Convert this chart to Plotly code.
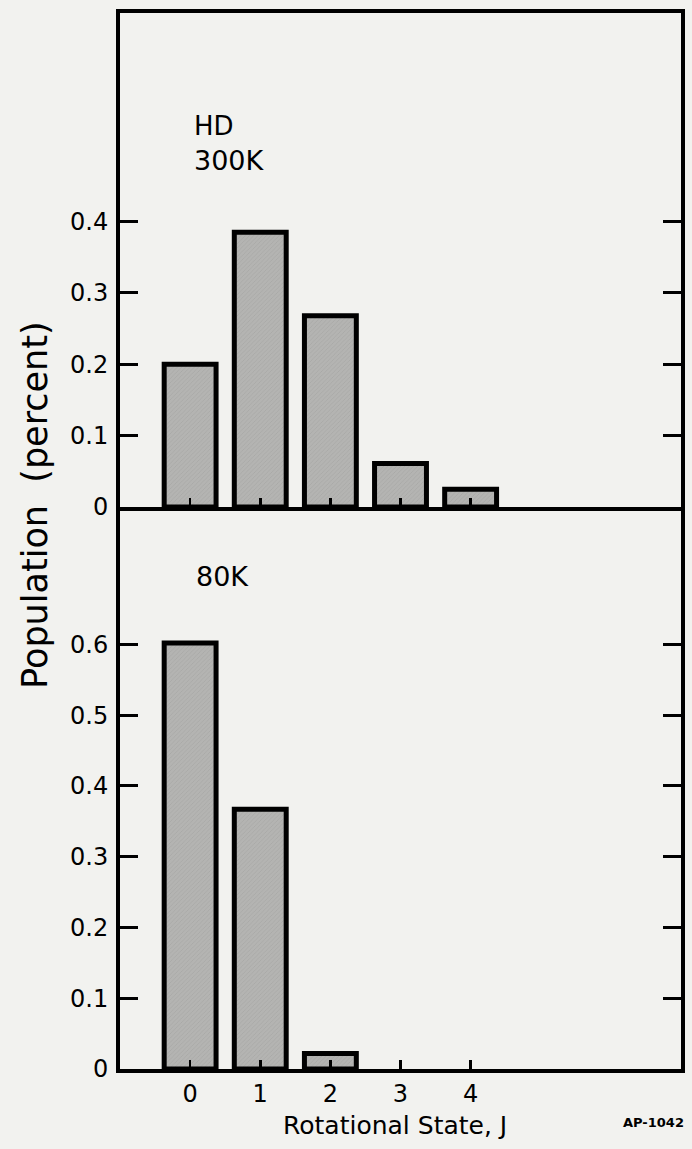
import plotly.graph_objects as go

# ---- data ----
states = [0, 1, 2, 3, 4]
state_labels = ["0", "1", "2", "3", "4"]
pop_300K = [0.200, 0.385, 0.268, 0.061, 0.025]
pop_80K = [0.602, 0.367, 0.022, 0.0, 0.0]
yticks_300K = [0, 0.1, 0.2, 0.3, 0.4]
ylabels_300K = ["0", "0.1", "0.2", "0.3", "0.4"]
yticks_80K = [0, 0.1, 0.2, 0.3, 0.4, 0.5, 0.6]
ylabels_80K = ["0", "0.1", "0.2", "0.3", "0.4", "0.5", "0.6"]

FONT = "'DejaVu Sans', Lato, sans-serif"
PAPER = "#f2f2ef"
BAR_FILL = "#b4b4b2"


def bar_style(values):
    return dict(
        width=0.74,
        marker=dict(
            color=BAR_FILL,
            line=dict(color="black", width=[5 if v > 0 else 0 for v in values]),
            pattern=dict(shape="/", fgcolor="#9c9c9a", size=3, solidity=0.25, bgcolor=BAR_FILL),
        ),
        showlegend=False,
        hoverinfo="skip",
    )


fig = go.Figure()
fig.add_trace(go.Bar(x=states, y=pop_80K, xaxis="x", yaxis="y", **bar_style(pop_80K)))
fig.add_trace(go.Bar(x=states, y=pop_300K, xaxis="x2", yaxis="y2", **bar_style(pop_300K)))

W, H = 692, 1149
ML, MR, MT, MB = 120, 7, 13, 80
plot_h = H - MT - MB
split = (1069 - 507) / plot_h

common_y = dict(
    ticks="inside", ticklen=18, tickwidth=3, tickcolor="black",
    mirror="ticks", showline=True, linewidth=4, linecolor="black",
    showgrid=False, zeroline=False, ticklabelstandoff=3,
    tickfont=dict(family=FONT, size=24, color="black"),
)
common_x = dict(
    range=[-1, 7], tickvals=states, ticktext=state_labels,
    ticks="inside", ticklen=9, tickwidth=2.5, tickcolor="black",
    showline=True, linewidth=4, linecolor="black",
    showgrid=False, zeroline=False,
    tickfont=dict(family=FONT, size=24, color="black"),
)

fig.update_layout(
    width=W, height=H,
    margin=dict(l=ML, r=MR, t=MT, b=MB),
    paper_bgcolor=PAPER, plot_bgcolor=PAPER,
    xaxis=dict(domain=[0, 1], anchor="y", ticklabelstandoff=0, mirror=False, **common_x),
    xaxis2=dict(domain=[0, 1], anchor="y2", matches="x", showticklabels=False, mirror=True, **common_x),
    yaxis=dict(domain=[0, split], anchor="x", range=[0, 0.794],
               tickvals=yticks_80K, ticktext=ylabels_80K, **common_y),
    yaxis2=dict(domain=[split, 1], anchor="x2", range=[0, 0.692],
                tickvals=yticks_300K, ticktext=ylabels_300K, **common_y),
    annotations=[
        dict(text="HD", xref="x2", yref="y2", x=0.03, y=0.534, xanchor="left", yanchor="middle",
             showarrow=False, font=dict(family=FONT, size=26, color="black")),
        dict(text="300K", xref="x2", yref="y2", x=0.03, y=0.485, xanchor="left", yanchor="middle",
             showarrow=False, font=dict(family=FONT, size=27, color="black")),
        dict(text="80K", xref="x", yref="y", x=0.05, y=0.696, xanchor="left", yanchor="middle",
             showarrow=False, font=dict(family=FONT, size=27, color="black")),
        dict(text="Rotational State, J", xref="paper", yref="paper", x=0.49, y=0,
             xanchor="center", yanchor="middle", yshift=-56, showarrow=False,
             font=dict(family=FONT, size=25, color="black")),
        dict(text="Population  (percent)", xref="paper", yref="paper", x=0, y=split + 0.002,
             xanchor="center", yanchor="middle", xshift=-85, textangle=-90, showarrow=False,
             font=dict(family=FONT, size=35, color="black")),
        dict(text="<b>AP-1042</b>", xref="paper", yref="paper", x=1, y=0,
             xanchor="right", yanchor="middle", yshift=-53, xshift=5, showarrow=False,
             font=dict(family=FONT, size=13, color="black")),
    ],
)

fig.write_html(
    "out.html",
    config={"displayModeBar": False, "staticPlot": True},
    post_script="document.body.style.margin='0';"
                "document.body.style.overflow='hidden';"
                "document.documentElement.style.overflow='hidden';"
                "document.body.style.background='%s';"
                "document.documentElement.style.background='%s';" % (PAPER, PAPER),
)
